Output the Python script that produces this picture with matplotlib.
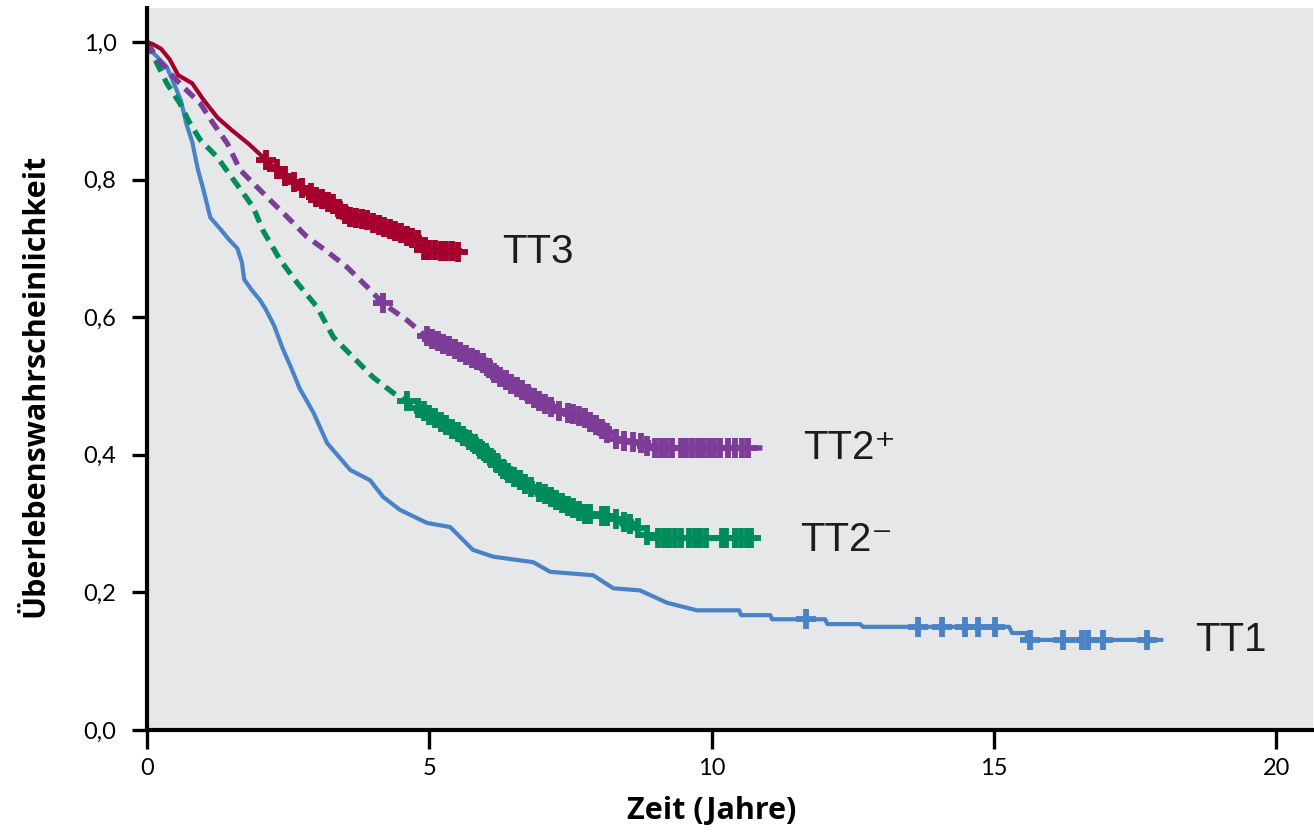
import numpy as np
import matplotlib
matplotlib.use("Agg")
import matplotlib.pyplot as plt
from matplotlib.ticker import FuncFormatter

# ---- data ----
tt1_t = [0, 0.1, 0.35, 0.5, 0.6, 0.7, 0.8, 0.9, 1.0, 1.12, 1.3, 1.45, 1.6, 1.68, 1.72, 1.85, 2.0, 2.1,
         2.25, 2.4, 2.55, 2.7, 2.95, 3.19, 3.6, 3.95, 4.18, 4.48, 4.96, 5.37, 5.77, 6.13, 6.84, 7.14,
         7.9, 8.26, 8.73, 9.21, 9.74, 10.49, 10.52, 11.04, 11.07, 12.01, 12.05, 12.63, 12.68, 15.27,
         15.32, 15.57, 15.6, 18.0]
tt1_s = [1.0, 0.985, 0.964, 0.935, 0.915, 0.88, 0.855, 0.815, 0.785, 0.745, 0.728, 0.713, 0.70, 0.68,
         0.655, 0.64, 0.625, 0.612, 0.588, 0.555, 0.527, 0.497, 0.461, 0.417, 0.378, 0.363, 0.339, 0.32,
         0.301, 0.295, 0.262, 0.252, 0.244, 0.23, 0.225, 0.206, 0.203, 0.185, 0.174, 0.174, 0.167, 0.167,
         0.161, 0.161, 0.154, 0.154, 0.150, 0.150, 0.141, 0.141, 0.131, 0.131]
tt1_cens = [11.67, 13.66, 14.08, 14.49, 14.72, 15.02, 15.64, 16.23, 16.56, 16.67, 16.94, 17.71]

tt2m_t = [0, 0.17, 0.35, 0.58, 0.76, 0.94, 1.24, 1.53, 1.88, 2.06, 2.36, 2.66, 3.01, 3.3, 3.65, 4.0,
          4.36, 4.6, 4.96, 5.37, 5.77, 6.08, 6.38, 6.79, 7.26, 7.72, 8.2, 8.68, 8.91, 10.86]
tt2m_s = [1.0, 0.97, 0.94, 0.911, 0.882, 0.858, 0.833, 0.80, 0.76, 0.725, 0.683, 0.65, 0.615, 0.571,
          0.542, 0.513, 0.49, 0.478, 0.46, 0.44, 0.417, 0.397, 0.374, 0.353, 0.334, 0.315, 0.31, 0.295,
          0.279, 0.279]
tt2m_cens = [4.6, 4.8, 4.9, 5.0, 5.1, 5.2, 5.3, 5.4, 5.5, 5.6, 5.7, 5.8, 5.9, 6.0, 6.1, 6.2, 6.3, 6.4,
             6.5, 6.6, 6.7, 6.8, 6.95, 7.05, 7.15, 7.25, 7.35, 7.45, 7.55, 7.65, 7.75, 7.85, 8.05, 8.15,
             8.3, 8.45, 8.55, 8.7, 8.85, 9.05, 9.15, 9.25, 9.35, 9.45, 9.6, 9.7, 9.8, 9.9, 10.18, 10.25,
             10.42, 10.52, 10.62, 10.7]

tt2p_t = [0, 0.17, 0.46, 0.7, 0.94, 1.17, 1.42, 1.65, 2.06, 2.48, 2.83, 3.15, 3.54, 3.9, 4.18, 4.6,
          4.9, 5.1, 5.5, 5.95, 6.25, 6.55, 6.9, 7.26, 7.72, 8.08, 8.33, 8.8, 8.9, 10.9]
tt2p_s = [1.0, 0.977, 0.95, 0.93, 0.911, 0.882, 0.853, 0.814, 0.78, 0.746, 0.717, 0.698, 0.673, 0.644,
          0.62, 0.596, 0.575, 0.567, 0.552, 0.533, 0.513, 0.499, 0.48, 0.465, 0.455, 0.436, 0.422, 0.417,
          0.41, 0.41]
tt2p_cens = [4.18, 4.95, 5.05, 5.15, 5.25, 5.35, 5.45, 5.55, 5.65, 5.75, 5.85, 5.95, 6.05, 6.15, 6.25,
             6.35, 6.45, 6.55, 6.65, 6.75, 6.85, 6.95, 7.05, 7.15, 7.3, 7.45, 7.55, 7.65, 7.75, 7.85,
             7.95, 8.05, 8.15, 8.3, 8.45, 8.6, 8.75, 8.85, 9.0, 9.1, 9.2, 9.3, 9.45, 9.55, 9.65, 9.75,
             9.85, 9.95, 10.05, 10.15, 10.29, 10.42, 10.54, 10.65]

tt3_t = [0, 0.1, 0.25, 0.4, 0.55, 0.8, 1.0, 1.25, 1.5, 1.8, 2.05, 2.25, 2.45, 2.7, 3.0, 3.3, 3.55, 3.9,
         4.2, 4.5, 4.8, 4.9, 5.6]
tt3_s = [1.0, 0.997, 0.99, 0.975, 0.952, 0.94, 0.916, 0.89, 0.872, 0.852, 0.833, 0.818, 0.805, 0.79,
         0.775, 0.764, 0.746, 0.741, 0.731, 0.722, 0.712, 0.698, 0.695]
tt3_cens = [2.1, 2.3, 2.45, 2.6, 2.75, 2.9, 3.0, 3.1, 3.2, 3.3, 3.4, 3.5, 3.6, 3.7, 3.8, 3.9, 4.0, 4.1,
            4.2, 4.3, 4.4, 4.5, 4.6, 4.7, 4.8, 4.9, 5.0, 5.1, 5.2, 5.3, 5.4, 5.5]

group_labels = ["TT1", "TT2\u207b", "TT2\u207a", "TT3"]
xticks = [0, 5, 10, 15, 20]
yticks = [0.0, 0.2, 0.4, 0.6, 0.8, 1.0]

# ---- styling ----
plt.rcParams['lines.scale_dashes'] = False
fig = plt.figure(figsize=(13.14, 8.33), dpi=100)
ax = fig.add_axes([0.1119, 0.1236, 0.8873, 0.8664])
ax.set_facecolor('#e6e7e9')

series = [
    (tt1_t, tt1_s, tt1_cens, '#4a82c8', '-', 3.0),
    (tt2m_t, tt2m_s, tt2m_cens, '#008c5a', '--', 3.8),
    (tt2p_t, tt2p_s, tt2p_cens, '#7d3c98', '--', 3.8),
    (tt3_t, tt3_s, tt3_cens, '#a5002d', '-', 3.0),
]
for t, s, cens, col, ls, lw in series:
    ln, = ax.plot(t, s, color=col, lw=lw, ls=ls, solid_capstyle='butt', zorder=3)
    if ls == '--':
        ln.set_dashes((9, 5.5))
    cy = np.interp(cens, np.asarray(t), np.asarray(s))
    ax.plot(cens, cy, ls='none', marker='+', ms=14, mew=4.2, color=col, zorder=4)

label_pos = [(18.56, 0.131), (11.57, 0.276), (11.62, 0.41), (6.29, 0.695)]
for lab, (x, y) in zip(group_labels, label_pos):
    ax.text(x, y, lab, fontsize=29, family=['Liberation Sans', 'DejaVu Sans'],
            color='#1c1c1c', ha='left', va='center', zorder=5)

ax.set_xlim(0, 20.65)
ax.set_ylim(0, 1.049)
ax.set_xticks(xticks)
ax.set_yticks(yticks)
ax.yaxis.set_major_formatter(FuncFormatter(lambda v, p: f"{v:.1f}".replace('.', ',')))
ax.xaxis.set_major_formatter(FuncFormatter(lambda v, p: f"{int(v)}"))

for sp in ['top', 'right']:
    ax.spines[sp].set_visible(False)
for sp in ['left', 'bottom']:
    ax.spines[sp].set_linewidth(3)
    ax.spines[sp].set_color('black')
    ax.spines[sp].set_zorder(6)

ax.tick_params(axis='y', length=11, width=2.4, direction='out', labelsize=17, pad=11, color='black')
ax.tick_params(axis='x', length=14, width=2.4, direction='out', labelsize=17, pad=6, color='black')
for lbl in ax.get_xticklabels() + ax.get_yticklabels():
    lbl.set_family('Lato')

ax.set_xlabel('Zeit (Jahre)', fontsize=22, fontweight='bold', family='Open Sans')
ax.xaxis.set_label_coords(0.4846, -0.091)
ax.set_ylabel('Überlebenswahrscheinlichkeit', fontsize=22, fontweight='bold', family='Open Sans')
ax.yaxis.set_label_coords(-0.083, 0.478)

fig.savefig('out.png', dpi=100, facecolor='white')
